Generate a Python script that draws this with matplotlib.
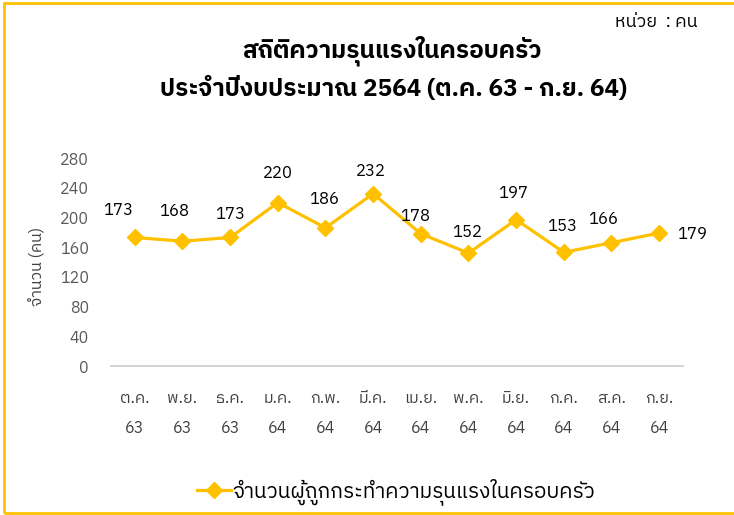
import matplotlib
matplotlib.use("Agg")
import matplotlib.pyplot as plt
from matplotlib.patches import Rectangle

months = ["ต.ค.", "พ.ย.", "ธ.ค.", "ม.ค.", "ก.พ.", "มี.ค.", "เม.ย.", "พ.ค.", "มิ.ย.", "ก.ค.", "ส.ค.", "ก.ย."]
years = ["63", "63", "63", "64", "64", "64", "64", "64", "64", "64", "64", "64"]
victims = [173, 168, 173, 220, 186, 232, 178, 152, 197, 153, 166, 179]
yticks = [0, 40, 80, 120, 160, 200, 240, 280]

# ตำแหน่งป้ายตัวเลข (จุด) เทียบกับจุดข้อมูล
label_dx = [-12, -6, 0, 0, -1, -2, -4, -1, -2, -1, -6, 13]
label_dy = [20, 22, 17, 21, 21, 16, 13, 15, 19, 19, 17, -1]

plt.rcParams['font.family'] = ['IBM Plex Sans Thai', 'DejaVu Sans']

fig = plt.figure(figsize=(7.34, 5.15), dpi=100)
ax = fig.add_axes([0.1512, 0.2893, 0.7793, 0.4039])
x = list(range(len(victims)))
ax.plot(x, victims, color="#FFC000", lw=2.3, marker="D", ms=8,
        label="จำนวนผู้ถูกกระทำความรุนแรงในครอบครัว")
for i, v in enumerate(victims):
    last = i == len(victims) - 1
    ax.annotate(str(v), (i, v), xytext=(label_dx[i], label_dy[i]),
                textcoords="offset points", ha="left" if last else "center",
                va="center", fontsize=12, color="black")
ax.set_xlim(-0.5, len(victims) - 0.5)
ax.set_ylim(0, 280)
ax.set_yticks(yticks)
ax.set_xticks(x)
ax.set_xticklabels([m + "\n" + y for m, y in zip(months, years)], linespacing=2.1)
ax.tick_params(axis="x", length=0, labelsize=11.5, colors="#404040", pad=17)
ax.tick_params(axis="y", length=0, labelsize=11.5, colors="#595959", pad=16)
for s in ["top", "right", "left"]:
    ax.spines[s].set_visible(False)
ax.spines["bottom"].set_color("#D0D0D0")
ax.spines["bottom"].set_linewidth(1.3)
ax.set_ylabel("จำนวน (คน)", fontsize=11.5, color="#404040")
ax.yaxis.set_label_coords(-0.115, 0.48)

fig.text(0.534, 0.902, "สถิติความรุนแรงในครอบครัว", ha="center", va="center",
         fontsize=17.5, fontweight="bold")
fig.text(0.536, 0.829, "ประจำปีงบประมาณ 2564 (ต.ค. 63 - ก.ย. 64)", ha="center",
         va="center", fontsize=17.5, fontweight="bold")
fig.text(0.951, 0.958, "หน่วย  : คน", ha="right", va="center", fontsize=13)
fig.legend(loc="center", bbox_to_anchor=(0.54, 0.045), frameon=False, fontsize=15,
           handlelength=1.6, handletextpad=0.1)
fig.patches.append(Rectangle((0.005, 0.004), 1.2, 0.99, transform=fig.transFigure,
                             fill=False, ec="#FFC000", lw=2))
fig.savefig("out.png", dpi=100)
